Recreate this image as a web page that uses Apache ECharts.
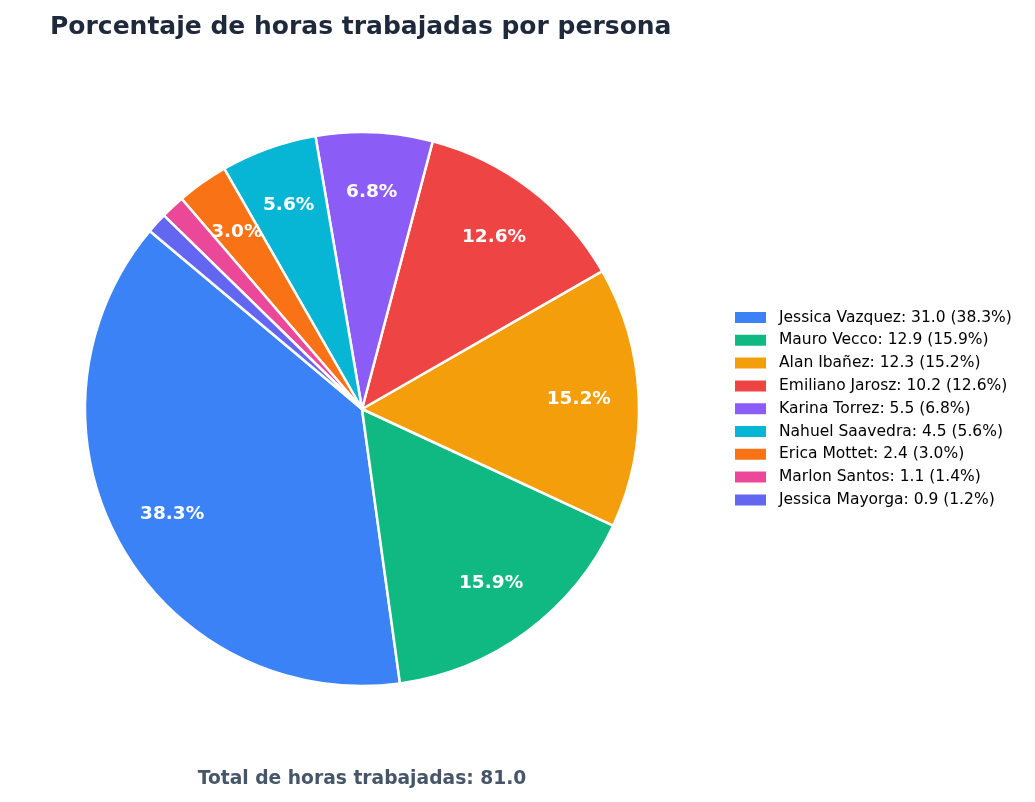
<!DOCTYPE html>
<html>
<head>
<meta charset="utf-8">
<script src="https://cdn.jsdelivr.net/npm/echarts@6/dist/echarts.min.js"></script>
<style>
html,body{margin:0;padding:0;background:#fff;}
#chart{width:1035px;height:802px;}
</style>
</head>
<body>
<div id="chart"></div>
<script>
const names = ["Jessica Vazquez","Mauro Vecco","Alan Ibañez","Emiliano Jarosz","Karina Torrez","Nahuel Saavedra","Erica Mottet","Marlon Santos","Jessica Mayorga"];
const hours = [31.0, 12.9, 12.3, 10.2, 5.5, 4.5, 2.4, 1.1, 0.9];
const percents = [38.3, 15.9, 15.2, 12.6, 6.8, 5.6, 3.0, 1.4, 1.2];
const colors = ["#3b82f6","#10b981","#f59e0b","#ef4444","#8b5cf6","#06b6d4","#f97316","#ec4899","#6366f1"];
const totalHours = "81.0";

const data = names.map((n, i) => ({name: n, value: percents[i], itemStyle: {color: colors[i]}}));
const labelData = names.map((n, i) => ({name: n, value: percents[i]}));

const chart = echarts.init(document.getElementById('chart'));
chart.setOption({
  animation: false,
  title: [
    {text: 'Porcentaje de horas trabajadas por persona', left: 45, top: 10,
     textStyle: {fontFamily: 'DejaVu Sans', fontSize: 25, fontWeight: 'bold', color: '#1e293b'}},
    {text: 'Total de horas trabajadas: ' + totalHours, left: 357, top: 764.5, textAlign: 'center',
     textStyle: {fontFamily: 'DejaVu Sans', fontSize: 18.7, fontWeight: 'bold', color: '#475569'}}
  ],
  legend: {
    orient: 'vertical', left: 728, top: 304.5,
    icon: 'rect', itemWidth: 33, itemHeight: 13, itemGap: 6.8,
    data: names,
    formatter: function (name) {
      const i = names.indexOf(name);
      return name + ': ' + hours[i].toFixed(1) + ' (' + percents[i].toFixed(1) + '%)';
    },
    textStyle: {fontFamily: 'DejaVu Sans', fontSize: 15.5, color: '#000', padding: [0,0,0,7]}
  },
  series: [
    {
      type: 'pie', center: [362, 409], radius: [0, 277],
      startAngle: 140, clockwise: false, silent: true,
      data: data,
      itemStyle: {borderColor: '#fff', borderWidth: 2.5},
      label: {show: false}, labelLine: {show: false}
    },
    {
      type: 'pie', center: [362, 409], radius: [151, 277],
      startAngle: 140, clockwise: false, silent: true,
      data: labelData,
      itemStyle: {color: 'rgba(0,0,0,0)'},
      label: {
        show: true, position: 'inside',
        fontFamily: 'DejaVu Sans', fontSize: 18.5, fontWeight: 'bold', color: '#fff',
        formatter: function (p) { return percents[p.dataIndex] >= 2 ? percents[p.dataIndex].toFixed(1) + '%' : ''; }
      },
      labelLine: {show: false}
    }
  ]
});
</script>
</body>
</html>
